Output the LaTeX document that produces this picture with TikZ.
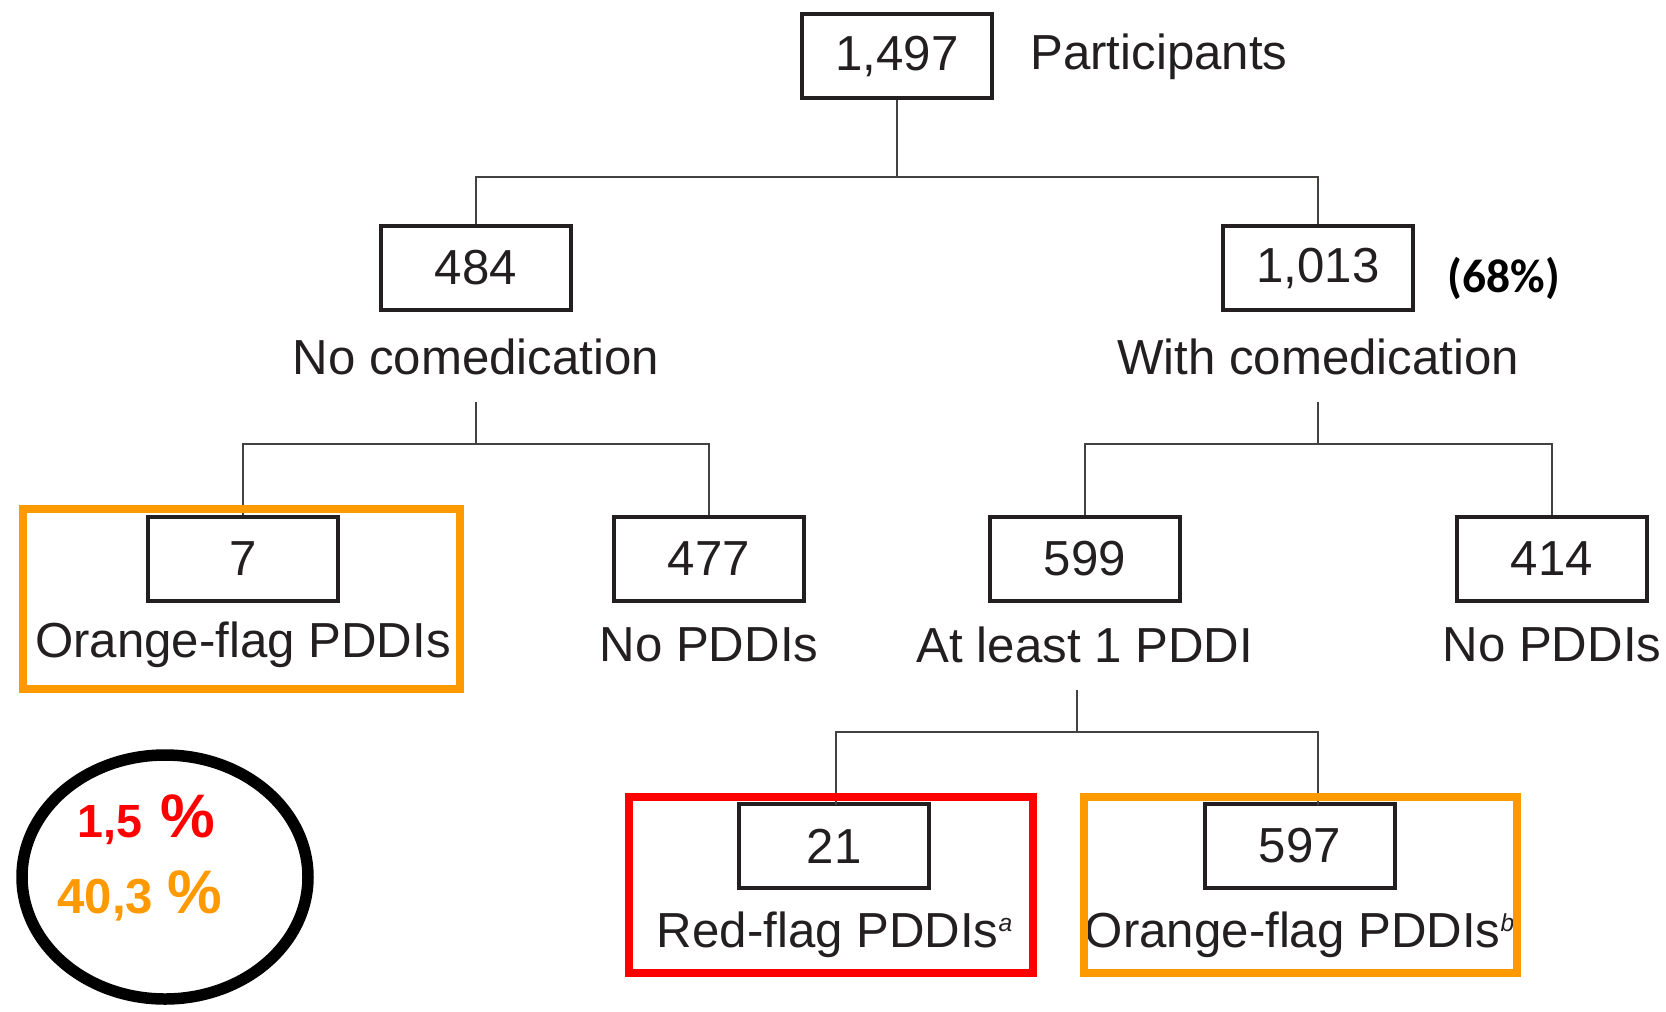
\documentclass[tikz,border=0pt]{standalone}
\usepackage{fontspec}
\setmainfont{Liberation Sans}
\newfontfamily\calibri{Carlito}
\definecolor{flagorange}{RGB}{255,153,0}
\definecolor{flagred}{RGB}{255,0,0}
\definecolor{ink}{RGB}{35,31,32}
\tikzset{
	countbox/.style={draw=ink,line width=2pt,minimum width=3.8cm,minimum height=1.68cm,inner sep=0pt,font=\fontsize{28}{33}\selectfont,text=ink},
	caption/.style={font=\fontsize{28}{33}\selectfont,text=ink,inner sep=0pt},
	link/.style={draw=ink!85,line width=1.1pt},
	flag/.style={line width=0.17cm},
}
\begin{document}
\begin{tikzpicture}[x=0.02cm,y=-0.02cm]
		\useasboundingbox (0,0) rectangle (1666,1011);
		\node[countbox] (n1497) at (897,56) {1,497};
		\node[caption,anchor=west] (participants) at (1030,57) {Participants};
		\node[countbox] (n484) at (476,268) {484};
		\node[countbox] (n1013) at (1318,268) {1,013};
		\node[font=\calibri\bfseries\fontsize{27}{32}\selectfont,inner sep=0pt] (share) at (1504,278) {(68\%)};
		\node[caption] (nocomed) at (476,357) {No comedication};
		\node[caption] (withcomed) at (1318,357) {With comedication};
		\node[countbox] (n7) at (243,559) {7};
		\node[countbox] (n477) at (709,559) {477};
		\node[countbox] (n599) at (1085,559) {599};
		\node[countbox] (n414) at (1552,559) {414};
		\node[caption] (orange7) at (243,645) {Orange-flag PDDIs};
		\node[caption] (nopddi477) at (709,645) {No PDDIs};
		\node[caption] (atleast) at (1085,645) {At least 1 PDDI};
		\node[caption] (nopddi414) at (1552,645) {No PDDIs};
		\node[countbox] (n21) at (834,846) {21};
		\node[countbox] (n597) at (1300,846) {597};
		\node[caption] (redflag) at (835,935) {Red-flag PDDIs\textsuperscript{\itshape\fontsize{14}{16}\selectfont a}};
		\node[caption] (orangeflag) at (1300,935) {Orange-flag PDDIs\textsuperscript{\itshape\fontsize{14}{16}\selectfont b}};
		\draw[link] (n1497.south) -- (n1497.south |- 0,177) coordinate (top);
		\draw[link] (n484.north) |- (top) -| (n1013.north);
		\draw[link] (nocomed |- 0,402) coordinate (midl) -- (midl |- 0,444) coordinate (forkl);
		\draw[link] (n7.north) |- (forkl) -| (n477.north);
		\draw[link] (withcomed |- 0,402) coordinate (midr) -- (midr |- 0,444) coordinate (forkr);
		\draw[link] (n599.north) |- (forkr) -| (n414.north);
		\draw[link] (1077,690) coordinate (midb) -- (midb |- 0,732) coordinate (forkb);
		\draw[link] (836,805) |- (forkb) -| (1318,805);
		\draw[flag,flagorange] (23,509) rectangle (460,689);
		\draw[flag,flagred] (629,797) rectangle (1033,973);
		\draw[flag,flagorange] (1084,797) rectangle (1517,973);
		\draw[line width=0.23cm] (165,877) ellipse [x radius=143,y radius=122];
		\node[anchor=base west,inner sep=0pt,text=flagred,font=\bfseries\fontsize{26.5}{30}\selectfont] (redpct) at (77,837) {1,5\hspace{0.4em}{\fontsize{35}{40}\selectfont\%}};
		\node[anchor=base west,inner sep=0pt,text=flagorange,font=\bfseries\fontsize{28}{32}\selectfont] (orangepct) at (57,913) {40,3\hspace{0.3em}{\fontsize{35}{40}\selectfont\%}};
\end{tikzpicture}
\end{document}
